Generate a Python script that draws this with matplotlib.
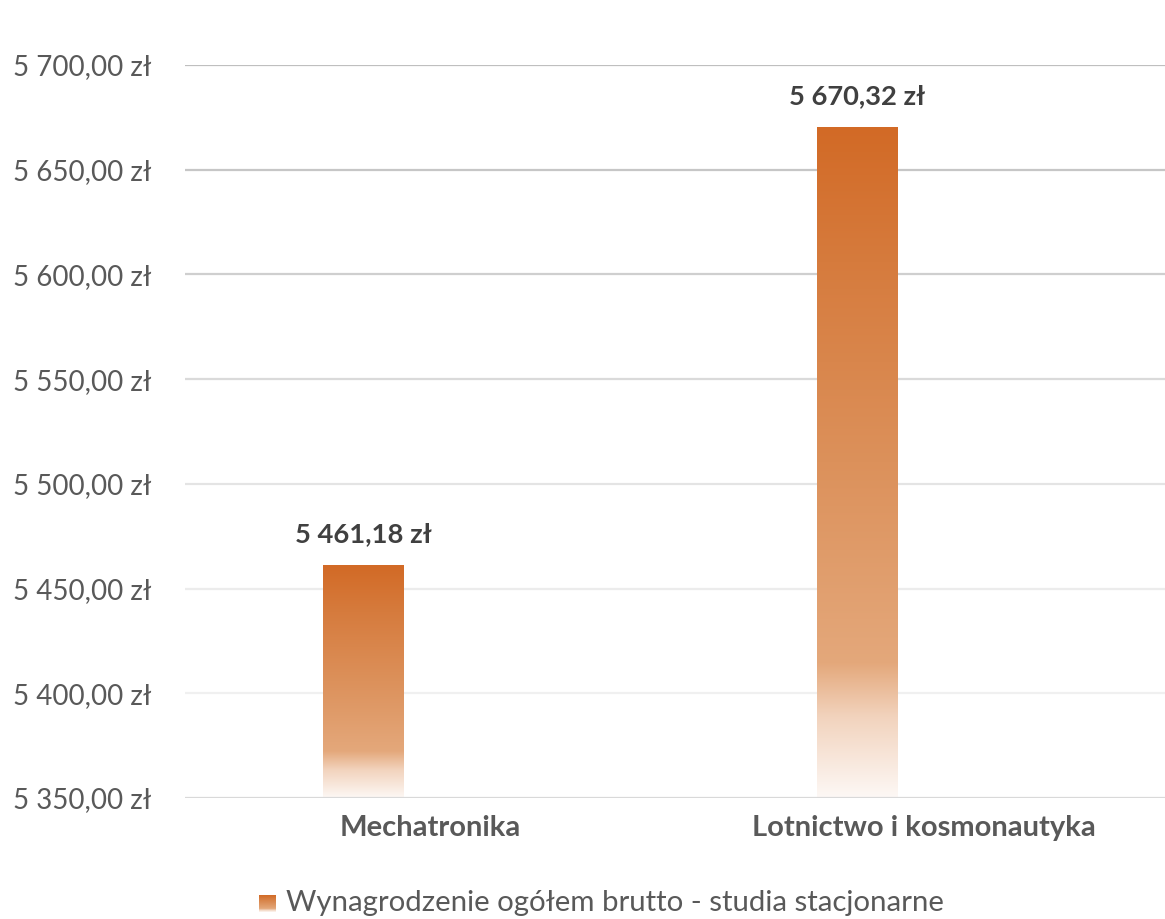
import matplotlib
matplotlib.use("Agg")
import matplotlib.pyplot as plt
import numpy as np
from matplotlib.colors import LinearSegmentedColormap

categories = ['Mechatronika', 'Lotnictwo i kosmonautyka']
values = [5461.18, 5670.32]
value_labels = ['5 461,18 zł', '5 670,32 zł']
yticks = [5350, 5400, 5450, 5500, 5550, 5600, 5650, 5700]
ytick_labels = ['5 350,00 zł', '5 400,00 zł', '5 450,00 zł', '5 500,00 zł',
                '5 550,00 zł', '5 600,00 zł', '5 650,00 zł', '5 700,00 zł']
legend_label = 'Wynagrodzenie ogółem brutto - studia stacjonarne'

plt.rcParams['font.family'] = ['Lato', 'DejaVu Sans']

# gradient: bottom (0) -> top (1)
grad = LinearSegmentedColormap.from_list('bar', [
    (0.0, '#fdf8f5'),
    (0.12, '#f2d3bd'),
    (0.2, '#e4a87b'),
    (0.5, '#dc915b'),
    (0.8, '#d67b3d'),
    (1.0, '#d26a26'),
])
ramp = np.linspace(0, 1, 256).reshape(-1, 1)
# gridlines fade from grey at the top to very light near the bottom
grid_colors = ['#d9d9d9', '#f0f0f0', '#ececec', '#e4e4e4', '#dadada', '#cfcfcf', '#c6c6c6', '#bfbfbf']

fig = plt.figure(figsize=(11.65, 9.19), dpi=100)
ax = fig.add_axes([185 / 1165, 121 / 919, 980 / 1165, 733 / 919])

bar_w = 0.162
offset = -0.1356
for i, v in enumerate(values):
    x0 = i + offset - bar_w / 2
    ax.imshow(ramp, cmap=grad, origin='lower', aspect='auto',
              extent=[x0, x0 + bar_w, 5350, v], zorder=2, interpolation='bilinear')
    ax.annotate(value_labels[i], (i + offset, v), xytext=(0, 14), textcoords='offset points',
                ha='center', va='bottom', fontsize=19.7, fontweight='bold', color='#404040')
ax.set_xlim(-0.496, 1.488)
ax.set_ylim(5350, 5700)

ax.set_yticks(yticks)
ax.set_yticklabels(ytick_labels, fontsize=20, color='#595959')
ax.set_xticks(range(len(categories)))
ax.set_xticklabels(categories, fontsize=21, fontweight='bold', color='#595959')
ax.tick_params(axis='y', length=0, pad=24)
ax.tick_params(axis='x', length=0, pad=12)

for y, c in zip(yticks, grid_colors):
    ax.axhline(y, color=c, lw=1.6, zorder=3 if y == yticks[0] else 1)
for s in ax.spines.values():
    s.set_visible(False)

# legend marker with the same gradient
lax = fig.add_axes([259 / 1165, (919 - 912) / 919, 17 / 1165, 17 / 919])
lax.imshow(ramp, cmap=grad, origin='lower', aspect='auto', interpolation='bilinear')
lax.axis('off')
fig.text(286 / 1165, (919 - 903) / 919, legend_label, fontsize=21.2, color='#595959',
         va='center', ha='left')

fig.savefig('out.png', dpi=100)
